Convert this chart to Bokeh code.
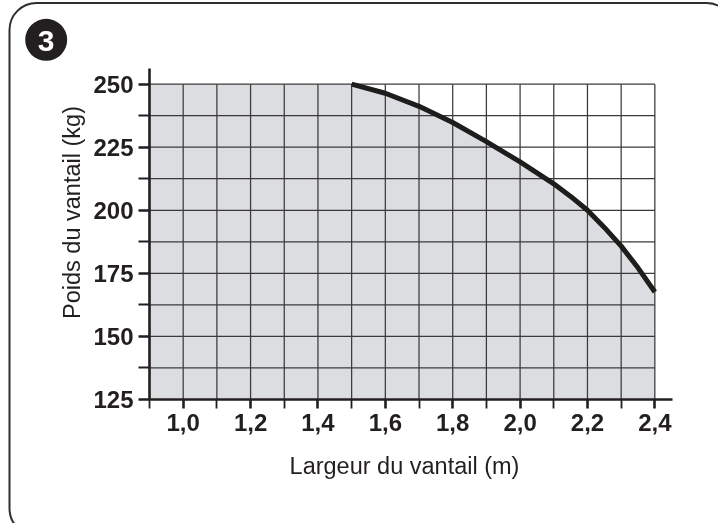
import math
from bokeh.plotting import figure
from bokeh.models import FixedTicker, Label, BoxAnnotation, CustomJSTickFormatter, Range1d
from bokeh.embed import file_html
from bokeh.resources import INLINE

# ---- data ----
width_m = [1.5, 1.6, 1.7, 1.8, 1.9, 2.0, 2.1, 2.15, 2.2, 2.25, 2.3, 2.35, 2.4]
weight_kg = [250, 246.4, 241.2, 234.8, 227.2, 219.2, 210.5, 205.5, 200.0, 193.2, 185.8, 177.2, 167.6]

x_ticks = [1.0, 1.2, 1.4, 1.6, 1.8, 2.0, 2.2, 2.4]
x_tick_labels = ["1,0", "1,2", "1,4", "1,6", "1,8", "2,0", "2,2", "2,4"]
x_minor_ticks = [0.9, 1.1, 1.3, 1.5, 1.7, 1.9, 2.1, 2.3]
y_ticks = [125, 150, 175, 200, 225, 250]
y_tick_labels = ["125", "150", "175", "200", "225", "250"]
y_minor_ticks = [137.5, 162.5, 187.5, 212.5, 237.5]

x_grid = [1.0, 1.1, 1.2, 1.3, 1.4, 1.5, 1.6, 1.7, 1.8, 1.9, 2.0, 2.1, 2.2, 2.3, 2.4]
y_grid = [137.5, 150, 162.5, 175, 187.5, 200, 212.5, 225, 237.5, 250]

x_axis_start, x_axis_end = 0.9, 2.4524
y_axis_start, y_axis_end = 125, 256.2

x_title = "Largeur du vantail (m)"
y_title = "Poids du vantail (kg)"
badge_text = "3"

# ---- layout (pixels on the 718x523 canvas) ----
W, H = 718, 523
axes_left_px, axes_right_px = 149, 672     # x axis extent
axes_top_px, axes_bottom_px = 68, 399      # y axis extent
x_per_px = (x_axis_end - x_axis_start) / (axes_right_px - axes_left_px)
y_per_px = (y_axis_end - y_axis_start) / (axes_bottom_px - axes_top_px)
x_range = Range1d(x_axis_start - axes_left_px * x_per_px, x_axis_end + (W - axes_right_px) * x_per_px)
y_range = Range1d(y_axis_start - (H - axes_bottom_px) * y_per_px, y_axis_end + axes_top_px * y_per_px)

INK = "#231f20"
FONT = "Liberation Sans"

p = figure(width=W, height=H, output_backend="svg", toolbar_location=None,
           x_range=x_range, y_range=y_range, min_border=0)
p.styles = {"position": "fixed", "left": "0px", "top": "0px"}
p.outline_line_color = None
p.xgrid.visible = False
p.ygrid.visible = False
p.background_fill_color = "white"
p.border_fill_color = "white"

# shaded admissible region
p.varea(x=[x_axis_start] + width_m, y1=y_axis_start, y2=[weight_kg[0]] + weight_kg, fill_color="#dcdde0")

# grid
p.segment(x0=x_grid, y0=[y_axis_start] * len(x_grid), x1=x_grid, y1=[y_grid[-1]] * len(x_grid),
          line_color="#3a3a3a", line_width=1.25)
p.segment(x0=[x_axis_start] * len(y_grid), y0=y_grid, x1=[x_grid[-1]] * len(y_grid), y1=y_grid,
          line_color="#3a3a3a", line_width=1.25)

# curve
p.line(width_m, weight_kg, line_color="#1d1d1b", line_width=5, line_join="round")

fmt_code = "const i = t.findIndex(v => Math.abs(v - tick) < 1e-6); return i >= 0 ? l[i] : '';"
xa, ya = p.xaxis[0], p.yaxis[0]
xa.ticker = FixedTicker(ticks=x_ticks, minor_ticks=x_minor_ticks)
xa.formatter = CustomJSTickFormatter(args=dict(t=x_ticks, l=x_tick_labels), code=fmt_code)
ya.ticker = FixedTicker(ticks=y_ticks, minor_ticks=y_minor_ticks)
ya.formatter = CustomJSTickFormatter(args=dict(t=y_ticks, l=y_tick_labels), code=fmt_code)
xa.fixed_location = y_axis_start
ya.fixed_location = x_axis_start
xa.bounds = (x_axis_start, x_axis_end)
ya.bounds = (y_axis_start, y_axis_end)

for ax in (xa, ya):
    ax.axis_line_color = INK
    ax.axis_line_width = 2.6
    ax.major_tick_line_color = INK
    ax.minor_tick_line_color = INK
    ax.major_tick_line_width = 2.6
    ax.minor_tick_line_width = 1.8
    ax.major_tick_in = 0
    ax.minor_tick_in = 0
    ax.major_label_text_font = FONT
    ax.major_label_text_font_style = "bold"
    ax.major_label_text_font_size = "24px"
    ax.major_label_text_color = INK

xa.major_tick_out = 9
xa.minor_tick_out = 9
xa.major_label_standoff = 5
ya.major_tick_out = 11
ya.minor_tick_out = 11
ya.major_label_standoff = 5

# axis titles
p.add_layout(Label(x=404, y=465, x_units="canvas", y_units="canvas", text=x_title,
                   text_align="center", text_baseline="alphabetic",
                   text_font=FONT, text_font_size="23.5px", text_color=INK))
p.add_layout(Label(x=71, y=212, x_units="canvas", y_units="canvas", text=y_title, angle=math.pi / 2,
                   text_align="center", text_baseline="middle",
                   text_font=FONT, text_font_size="23.5px", text_color=INK))

# rounded panel frame
p.add_layout(BoxAnnotation(left=9, right=733, top=2.5, bottom=535,
                           left_units="canvas", right_units="canvas", top_units="canvas", bottom_units="canvas",
                           fill_color=None, line_color="#2e2e2e", line_alpha=1, line_width=2, border_radius=27,
                           level="overlay"))

# badge
p.add_layout(BoxAnnotation(left=24.7, right=66.7, top=18.3, bottom=60.3,
                           left_units="canvas", right_units="canvas", top_units="canvas", bottom_units="canvas",
                           fill_color=INK, fill_alpha=1, line_color=None, border_radius=21,
                           level="overlay"))
p.add_layout(Label(x=45.7, y=40.5, x_units="canvas", y_units="canvas", text=badge_text,
                   text_align="center", text_baseline="middle",
                   text_font=FONT, text_font_style="bold", text_font_size="30px", text_color="white",
                   level="overlay"))

open("out.html", "w").write(file_html(p, INLINE))
